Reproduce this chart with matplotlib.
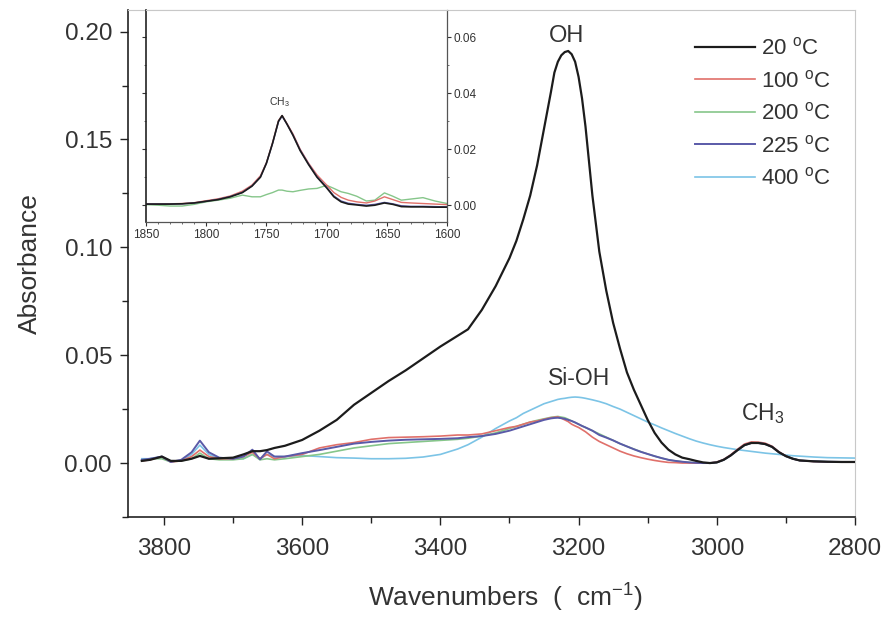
import matplotlib
matplotlib.use("Agg")
import matplotlib.pyplot as plt
from matplotlib.ticker import MultipleLocator, FormatStrFormatter

plt.rcParams['font.family'] = ['Liberation Sans', 'DejaVu Sans']
plt.rcParams['mathtext.fontset'] = 'custom'
plt.rcParams['mathtext.rm'] = 'Liberation Sans'
plt.rcParams['mathtext.it'] = 'Liberation Sans'

# ---- main spectra (wavenumber in cm^-1, absorbance) ----
wavenumber = [3832, 3820, 3803, 3790, 3775, 3760, 3748, 3735, 3720, 3700,
              3685, 3672, 3661, 3651, 3640, 3625, 3600, 3575, 3550, 3525,
              3500, 3475, 3450, 3425, 3400, 3375, 3360, 3340, 3320, 3300,
              3290, 3280, 3270, 3260, 3250, 3240, 3235, 3230, 3225, 3220,
              3215, 3210, 3205, 3200, 3195, 3190, 3180, 3170, 3160, 3150,
              3140, 3130, 3120, 3110, 3100, 3090, 3080, 3070, 3060, 3050,
              3040, 3030, 3020, 3010,
              3000, 2990, 2980, 2970, 2960, 2950, 2940, 2930, 2920, 2910,
              2900, 2890, 2880, 2860, 2840, 2820, 2800]

# C-H stretch band (3000-2800 cm^-1) shared by the 20, 200 and 225 C spectra
ch3_tail = [0.0003, 0.0015, 0.0035, 0.0060, 0.0083, 0.0093, 0.0093, 0.0088,
            0.0075, 0.0050, 0.0032, 0.0020, 0.0012, 0.0008, 0.0006, 0.0005, 0.0005]

abs_20 = [0.0010, 0.0015, 0.0030, 0.0010, 0.0010, 0.0020, 0.0033, 0.0020, 0.0022, 0.0025,
          0.0040, 0.0055, 0.0055, 0.0060, 0.0070, 0.0080, 0.0107, 0.0150, 0.0200, 0.0270,
          0.0325, 0.0380, 0.0430, 0.0485, 0.0540, 0.0590, 0.0620, 0.0710, 0.0820, 0.0950,
          0.1030, 0.1130, 0.1240, 0.1380, 0.1550, 0.1720, 0.1810, 0.1860, 0.1890, 0.1905,
          0.1910, 0.1895, 0.1860, 0.1790, 0.1690, 0.1560, 0.1240, 0.0980, 0.0800, 0.0650,
          0.0530, 0.0420, 0.0340, 0.0270, 0.0200, 0.0140, 0.0095, 0.0062, 0.0040, 0.0025,
          0.0018, 0.0010, 0.0003, 0.0000] + ch3_tail

abs_100 = [0.0010, 0.0015, 0.0030, 0.0005, 0.0010, 0.0030, 0.0060, 0.0030, 0.0020, 0.0020,
           0.0030, 0.0050, 0.0020, 0.0040, 0.0020, 0.0030, 0.0040, 0.0070, 0.0085, 0.0095,
           0.0110, 0.0118, 0.0120, 0.0122, 0.0125, 0.0130, 0.0130, 0.0135, 0.0150, 0.0165,
           0.0170, 0.0180, 0.0190, 0.0195, 0.0203, 0.0210, 0.0212, 0.0214, 0.0208, 0.0200,
           0.0192, 0.0180, 0.0172, 0.0165, 0.0155, 0.0145, 0.0120, 0.0100, 0.0085, 0.0070,
           0.0055, 0.0043, 0.0033, 0.0025, 0.0018, 0.0012, 0.0007, 0.0003, 0.0002, 0.0000,
           0.0000, 0.0000, 0.0000, 0.0000,
           0.0005, 0.0017, 0.0038, 0.0064, 0.0088, 0.0098, 0.0097, 0.0092, 0.0078, 0.0052,
           0.0033, 0.0020, 0.0012, 0.0007, 0.0005, 0.0004, 0.0004]

abs_200 = [0.0010, 0.0020, 0.0020, 0.0005, 0.0010, 0.0020, 0.0046, 0.0020, 0.0015, 0.0015,
           0.0020, 0.0040, 0.0015, 0.0020, 0.0015, 0.0020, 0.0030, 0.0040, 0.0055, 0.0070,
           0.0080, 0.0090, 0.0095, 0.0100, 0.0105, 0.0110, 0.0115, 0.0125, 0.0140, 0.0160,
           0.0170, 0.0180, 0.0190, 0.0198, 0.0205, 0.0212, 0.0214, 0.0216, 0.0213, 0.0210,
           0.0203, 0.0195, 0.0188, 0.0180, 0.0172, 0.0165, 0.0150, 0.0135, 0.0120, 0.0105,
           0.0090, 0.0077, 0.0065, 0.0053, 0.0042, 0.0032, 0.0023, 0.0015, 0.0010, 0.0006,
           0.0003, 0.0001, 0.0000, 0.0000] + ch3_tail

abs_225 = [0.0015, 0.0020, 0.0030, 0.0005, 0.0015, 0.0050, 0.0104, 0.0050, 0.0025, 0.0020,
           0.0030, 0.0062, 0.0017, 0.0054, 0.0030, 0.0030, 0.0046, 0.0060, 0.0075, 0.0090,
           0.0098, 0.0104, 0.0108, 0.0110, 0.0112, 0.0115, 0.0120, 0.0125, 0.0135, 0.0150,
           0.0160, 0.0170, 0.0180, 0.0190, 0.0200, 0.0207, 0.0209, 0.0210, 0.0208, 0.0205,
           0.0200, 0.0195, 0.0188, 0.0180, 0.0172, 0.0165, 0.0150, 0.0130, 0.0118, 0.0105,
           0.0090, 0.0077, 0.0064, 0.0052, 0.0042, 0.0032, 0.0023, 0.0015, 0.0010, 0.0006,
           0.0003, 0.0001, 0.0000, 0.0000] + ch3_tail

abs_400 = [0.0020, 0.0020, 0.0030, 0.0008, 0.0010, 0.0040, 0.0083, 0.0040, 0.0020, 0.0020,
           0.0020, 0.0040, 0.0020, 0.0040, 0.0030, 0.0030, 0.0035, 0.0030, 0.0025, 0.0023,
           0.0020, 0.0020, 0.0022, 0.0028, 0.0040, 0.0065, 0.0085, 0.0120, 0.0160, 0.0195,
           0.0210, 0.0230, 0.0245, 0.0260, 0.0275, 0.0285, 0.0290, 0.0295, 0.0298, 0.0300,
           0.0303, 0.0305, 0.0306, 0.0305, 0.0303, 0.0300, 0.0293, 0.0285, 0.0275, 0.0262,
           0.0250, 0.0235, 0.0220, 0.0205, 0.0190, 0.0177, 0.0163, 0.0150, 0.0137, 0.0125,
           0.0113, 0.0102, 0.0093, 0.0085,
           0.0078, 0.0072, 0.0067, 0.0062, 0.0058, 0.0054, 0.0050, 0.0046, 0.0043, 0.0040,
           0.0037, 0.0034, 0.0032, 0.0028, 0.0025, 0.0024, 0.0023]

# ---- inset: 1850-1600 cm^-1 region ----
inset_wavenumber = [1850, 1840, 1830, 1820, 1810, 1800, 1790, 1780, 1770, 1762,
                    1755, 1750, 1745, 1740, 1737, 1733, 1728, 1722, 1715, 1708,
                    1700, 1694, 1688, 1682, 1675, 1667, 1660, 1652, 1645, 1638,
                    1630, 1620, 1610, 1600]

inset_20 = [0.0004, 0.0004, 0.0004, 0.0005, 0.0008, 0.0014, 0.0020, 0.0030, 0.0045, 0.0068,
            0.0100, 0.0150, 0.0220, 0.0300, 0.0320, 0.0290, 0.0250, 0.0195, 0.0145, 0.0100,
            0.0062, 0.0030, 0.0012, 0.0004, 0.0001, -0.0003, 0.0000, 0.0008, 0.0003, -0.0005,
            -0.0006, -0.0006, -0.0007, -0.0007]

inset_100 = [0.0004, 0.0004, 0.0005, 0.0006, 0.0009, 0.0016, 0.0023, 0.0033, 0.0050, 0.0072,
             0.0105, 0.0152, 0.0222, 0.0302, 0.0320, 0.0292, 0.0255, 0.0200, 0.0150, 0.0108,
             0.0072, 0.0045, 0.0028, 0.0018, 0.0012, 0.0008, 0.0015, 0.0030, 0.0020, 0.0010,
             0.0008, 0.0006, 0.0004, 0.0002]

inset_200 = [0.0002, 0.0000, -0.0003, -0.0003, 0.0003, 0.0012, 0.0018, 0.0025, 0.0036, 0.0030,
             0.0030, 0.0038, 0.0045, 0.0054, 0.0054, 0.0050, 0.0048, 0.0053, 0.0058, 0.0060,
             0.0071, 0.0060, 0.0048, 0.0042, 0.0032, 0.0015, 0.0018, 0.0044, 0.0032, 0.0018,
             0.0022, 0.0027, 0.0015, 0.0006]

inset_225 = [0.0004, 0.0004, 0.0004, 0.0005, 0.0008, 0.0014, 0.0021, 0.0031, 0.0046, 0.0069,
             0.0101, 0.0150, 0.0219, 0.0298, 0.0318, 0.0290, 0.0251, 0.0197, 0.0147, 0.0102,
             0.0064, 0.0033, 0.0015, 0.0007, 0.0003, 0.0000, 0.0003, 0.0010, 0.0005, -0.0002,
             -0.0004, -0.0004, -0.0005, -0.0006]

series_labels = ['20 $^{\\mathrm{o}}$C', '100 $^{\\mathrm{o}}$C', '200 $^{\\mathrm{o}}$C',
                 '225 $^{\\mathrm{o}}$C', '400 $^{\\mathrm{o}}$C']
colors = ['#1c1c1c', '#e0706a', '#86c68a', '#5a5aa8', '#7cc4e6']
widths = [1.6, 1.2, 1.2, 1.4, 1.2]
text_color = '#333333'

fig = plt.figure(figsize=(8.84, 6.21), dpi=100)
ax = fig.add_axes([0.1448, 0.1675, 0.8224, 0.8164])

main_series = [abs_20, abs_100, abs_200, abs_225, abs_400]
lines = {}
for i in [4, 2, 1, 3, 0]:
    ln, = ax.plot(wavenumber, main_series[i], color=colors[i], lw=widths[i],
                  label=series_labels[i], zorder=3 if i == 0 else 2)
    lines[i] = ln

ax.set_xlim(3852, 2800)
ax.set_ylim(-0.025, 0.21)
ax.xaxis.set_major_locator(MultipleLocator(200))
ax.xaxis.set_minor_locator(MultipleLocator(100))
ax.yaxis.set_major_locator(MultipleLocator(0.05))
ax.yaxis.set_minor_locator(MultipleLocator(0.025))
ax.yaxis.set_major_formatter(FormatStrFormatter('%.2f'))
ax.tick_params(which='major', direction='out', length=6, width=1.0, labelsize=17.5,
               colors='#222222', labelcolor=text_color)
ax.tick_params(which='minor', direction='out', length=4, width=1.0, colors='#222222')
ax.tick_params(axis='x', which='major', pad=9)
ax.tick_params(axis='y', which='major', pad=5.5)
for side in ['top', 'right']:
    ax.spines[side].set_color('#c8c8c8')
    ax.spines[side].set_linewidth(0.8)
for side in ['left', 'bottom']:
    ax.spines[side].set_color('#222222')
    ax.spines[side].set_linewidth(1.2)

ax.set_xlabel('Wavenumbers  (  cm$^{\\mathrm{-1}}$)', fontsize=19, color=text_color)
ax.xaxis.set_label_coords(0.5185, -0.128)
ax.set_ylabel('Absorbance', fontsize=19, color=text_color, labelpad=16)

ax.text(3217, 0.1930, 'OH', fontsize=17, ha='center', va='bottom', color=text_color)
ax.text(3199, 0.0340, 'Si-OH', fontsize=16.5, ha='center', va='bottom', color=text_color)
ax.text(2933, 0.0170, 'CH$_{\\mathrm{3}}$', fontsize=16.5, ha='center', va='bottom',
        color=text_color)

handles = [lines[i] for i in range(5)]
ax.legend(handles, series_labels, loc='upper right', bbox_to_anchor=(0.995, 0.985),
          frameon=False, fontsize=16, handlelength=2.7, handletextpad=0.3,
          labelspacing=0.47, labelcolor=text_color)

# ---- inset axes ----
axi = fig.add_axes([0.1652, 0.6425, 0.3405, 0.3414])
inset_series = [inset_20, inset_100, inset_200, inset_225]
for i in [2, 1, 3, 0]:
    axi.plot(inset_wavenumber, inset_series[i], color=colors[i], lw=1.2 if i == 0 else 1.0)
axi.set_xlim(1850, 1600)
axi.set_ylim(-0.006, 0.0697)
axi.xaxis.set_major_locator(MultipleLocator(50))
axi.xaxis.set_minor_locator(MultipleLocator(10))
axi.yaxis.set_major_locator(MultipleLocator(0.02))
axi.yaxis.set_minor_locator(MultipleLocator(0.01))
axi.yaxis.set_major_formatter(FormatStrFormatter('%.2f'))
axi.yaxis.set_ticks_position('both')
axi.tick_params(axis='y', which='both', labelleft=False, labelright=True)
axi.tick_params(which='major', direction='out', length=3, width=0.8, labelsize=8.5,
                colors='#333333', pad=2)
axi.tick_params(which='minor', direction='out', length=1.5, width=0.6, colors='#555555')
axi.spines['top'].set_color('#c8c8c8')
for side in ['bottom', 'right']:
    axi.spines[side].set_color('#555555')
    axi.spines[side].set_linewidth(0.9)
axi.spines['left'].set_color('#222222')
axi.spines['left'].set_linewidth(1.2)
axi.text(1739.5, 0.0345, 'CH$_{\\mathrm{3}}$', fontsize=7.5, ha='center', va='bottom',
         color=text_color)

fig.savefig('out.png', dpi=100)
